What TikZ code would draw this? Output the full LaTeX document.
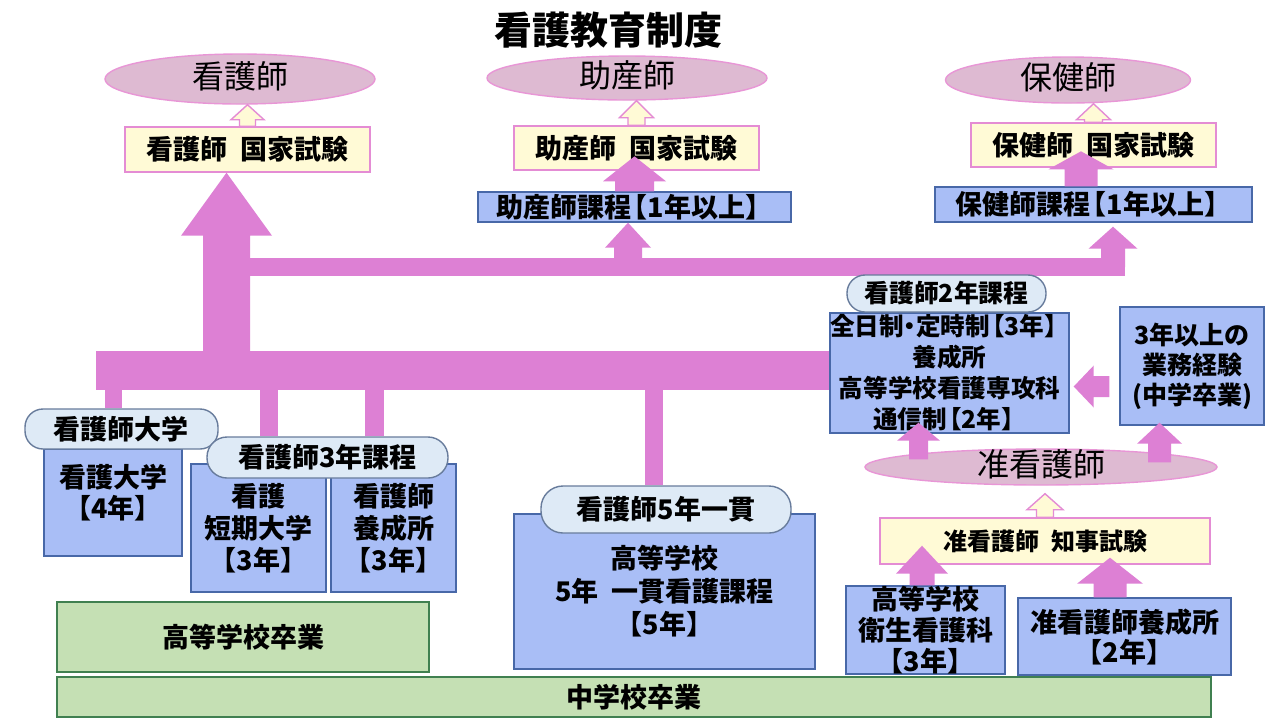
\documentclass[tikz,border=0pt]{standalone}
\usepackage{fontspec}
\setmainfont{Noto Sans CJK JP}
\usetikzlibrary{shapes.geometric,calc}

\definecolor{arrowpink}{RGB}{221,128,212}
\definecolor{ellfill}{RGB}{222,186,210}
\definecolor{ellline}{RGB}{232,150,214}
\definecolor{examfill}{RGB}{255,250,214}
\definecolor{examline}{RGB}{228,140,212}
\definecolor{boxfill}{RGB}{169,190,246}
\definecolor{boxline}{RGB}{72,104,168}
\definecolor{tagfill}{RGB}{222,234,246}
\definecolor{tagline}{RGB}{104,124,156}
\definecolor{greenfill}{RGB}{197,224,180}
\definecolor{greenline}{RGB}{64,128,80}

\pgfdeclarelayer{bars}
\pgfsetlayers{bars,main}

% tighter full-width brackets and dot inside a line
\newcommand{\openbr}{\kern-0.4em【}
\newcommand{\middot}{\kern-0.25em・\kern-0.25em}

% block arrow pointing up: style, tail, tip, shaft half width, head half width, head length
\newcommand{\blockup}[6]{%
  \path[#1] ($(#2 -| #3)+(-#4,0)$) -- ($(#3)+(-#4,#6)$) -- ($(#3)+(-#5,#6)$) -- (#3)
    -- ($(#3)+(#5,#6)$) -- ($(#3)+(#4,#6)$) -- ($(#2 -| #3)+(#4,0)$) -- cycle;}
% block arrow pointing left
\newcommand{\blockleft}[6]{%
  \path[#1] ($(#2 |- #3)+(0,-#4)$) -- ($(#3)+(#6,-#4)$) -- ($(#3)+(#6,-#5)$) -- (#3)
    -- ($(#3)+(#6,#5)$) -- ($(#3)+(#6,#4)$) -- ($(#2 |- #3)+(0,#4)$) -- cycle;}

\tikzset{
  headline/.style={font=\fontsize{19}{22}\selectfont\bfseries},
  pinkell/.style={ellipse, draw=ellline, fill=ellfill, line width=0.7pt, inner sep=0pt,
    text height=11pt, text depth=1.5pt, font=\fontsize{16}{18}\selectfont},
  exambox/.style={draw=examline, fill=examfill, line width=0.7pt, inner sep=0pt,
    font=\fontsize{13.5}{16}\selectfont\bfseries},
  bluebox/.style={draw=boxline, fill=boxfill, line width=0.7pt, inner sep=0pt, align=center,
    font=\fontsize{13.5}{16}\selectfont\bfseries},
  bluetext/.style={inner sep=0pt, align=center, font=\fontsize{13.5}{15.5}\selectfont\bfseries},
  tagbox/.style={draw=tagline, fill=tagfill, line width=0.7pt, rounded corners=9pt, inner sep=0pt,
    font=\fontsize{13.5}{16}\selectfont\bfseries},
  greenbox/.style={draw=greenline, fill=greenfill, line width=0.7pt, inner sep=0pt,
    font=\fontsize{13.5}{16}\selectfont\bfseries},
  bar/.style={draw=arrowpink, line cap=butt},
  blockarrow/.style={fill=arrowpink},
  hollowarrow/.style={draw=examline, fill=examfill, line width=0.7pt},
}

\begin{document}
\begin{tikzpicture}[x=0.5pt,y=-0.5pt]
  \useasboundingbox (0,0) rectangle (1280,720);

  \node[headline] (head) at (608,30) {看護教育制度};

  % qualifications
  \node[pinkell, minimum width=135pt, minimum height=25pt] (kango) at (240,79) {看護師};
  \node[pinkell, minimum width=140pt, minimum height=22pt] (josan) at (627,78) {助産師};
  \node[pinkell, minimum width=122.5pt, minimum height=23pt] (hoken) at (1068,80) {保健師};
  \node[pinkell, minimum width=176pt, minimum height=18pt] (jun) at (1041,467) {准看護師};

  % exams and courses
  \node[exambox, minimum width=122.5pt, minimum height=22.5pt] (kexam) at (247.5,149.5) {看護師\enspace 国家試験};
  \node[exambox, minimum width=122.5pt, minimum height=22pt] (jexam) at (636.5,148) {助産師\enspace 国家試験};
  \node[exambox, minimum width=122.5pt, minimum height=22pt] (hexam) at (1093.5,145) {保健師\enspace 国家試験};
  \node[exambox, minimum width=165pt, minimum height=23pt, font=\fontsize{12}{14}\selectfont\bfseries] (chiji) at (1045,541) {准看護師\enspace 知事試験};
  \node[bluebox, minimum width=156.5pt, minimum height=15pt] (jcourse) at (634.5,207) {助産師課程\openbr 1年以上】};
  \node[bluebox, minimum width=158.5pt, minimum height=17.5pt] (hcourse) at (1093.5,204.5) {保健師課程\openbr 1年以上】};

  % schools
  \node[bluebox, minimum width=69pt, minimum height=53.5pt] (udai) at (113,502.5) {};
  \node[bluetext] (udaitext) at ($(udai.center)+(0,-10)$) {看護大学\\【4年】};
  \node[bluebox, minimum width=67.5pt, minimum height=64pt] (tanki) at (258.5,528) {看護\\短期大学\\【3年】};
  \node[bluebox, minimum width=62.5pt, minimum height=64pt] (yosei) at (393.5,528) {看護師\\養成所\\【3年】};
  \node[bluebox, minimum width=150.5pt, minimum height=77.5pt, font=\fontsize{13.5}{16.5}\selectfont\bfseries] (five) at (664.5,591.5) {高等学校\\5年\enspace 一貫看護課程\\【5年】};
  \node[bluebox, minimum width=119.5pt, minimum height=60pt, font=\fontsize{12.3}{15.5}\selectfont\bfseries] (ntwobox) at (949.5,373)
    {全日制\middot 定時制\openbr 3年】\\養成所\\高等学校看護専攻科\\通信制\openbr 2年】};
  \node[bluebox, minimum width=72pt, minimum height=59pt, font=\fontsize{12.5}{15}\selectfont\bfseries] (expbox) at (1192,366) {3年以上の\\業務経験\\(中学卒業)};
  \node[bluebox, minimum width=79.5pt, minimum height=44pt, font=\fontsize{13.5}{15.5}\selectfont\bfseries] (eisei) at (925.5,630) {高等学校\\衛生看護科\\【3年】};
  \node[bluebox, minimum width=106.5pt, minimum height=38.5pt, font=\fontsize{13.5}{15}\selectfont\bfseries] (junyosei) at (1124.5,636.5) {准看護師養成所\\【2年】};

  % course tags
  \node[tagbox, minimum width=96.5pt, minimum height=20pt] (nutag) at (121.5,429) {看護師大学};
  \node[tagbox, minimum width=120.5pt, minimum height=20.5pt, rounded corners=10pt] (threetag) at (327.5,457.5) {看護師3年課程};
  \node[tagbox, minimum width=125pt, minimum height=23.5pt, rounded corners=11pt] (fivetag) at (666,509.5) {看護師5年一貫};
  \node[tagbox, minimum width=99.5pt, minimum height=18.5pt, font=\fontsize{12.4}{15}\selectfont\bfseries] (twotag) at (946.5,293.5) {看護師2年課程};

  % graduation
  \node[greenbox, minimum width=186pt, minimum height=35pt] (koukou) at (243,637) {高等学校卒業};
  \node[greenbox, minimum width=577pt, minimum height=20pt] (chugaku) at (634,697) {中学校卒業};

  % bars
  \begin{pgfonlayer}{bars}
    \fill[white] (0,0) rectangle (1280,720);
    \coordinate (lowL) at (96,370.5);
    \coordinate (lowR) at (lowL -| ntwobox.west);
    \draw[bar, line width=19.5pt] (lowL) -- (lowR);
    \coordinate (upL) at (226.5,267);
    \coordinate (upR) at (1125,267);
    \draw[bar, line width=9pt] (upL) -- (upR);
    \foreach \sx/\sw/\tg in {113.5/8.5/nutag, 269/9/threetag, 374.5/9.5/threetag, 654/9/fivetag} {
      \coordinate (stub) at (\sx,370.5);
      \draw[bar, line width=\sw pt] (stub) -- (stub |- \tg.north);
    }
  \end{pgfonlayer}

  % arrows
  \coordinate (stemK) at (226.5,370.5);
  \coordinate (ktip) at (kexam.south -| stemK);
  \blockup{blockarrow}{stemK}{ktip}{23.5}{45.5}{63}

  \coordinate (jstem) at (628,267);
  \coordinate (jtip) at (jcourse.south -| jstem);
  \blockup{blockarrow}{jstem}{jtip}{14}{23}{25}
  \coordinate (hstem) at (1113,267);
  \coordinate (htip) at ($(hcourse.south -| hstem)+(0,4)$);
  \blockup{blockarrow}{hstem}{htip}{12}{24.5}{22}

  \coordinate (jctip) at ($(jcourse.north)+(0,-35)$);
  \blockup{blockarrow}{jcourse.north}{jctip}{19.5}{31.5}{25}
  \coordinate (hctip) at ($(hcourse.north)+(-12.5,-35)$);
  \blockup{blockarrow}{hcourse.north}{hctip}{16.5}{32.5}{18}

  \coordinate (ttail) at ($(jun.north)+(0,11)$);
  \coordinate (ttip) at ($(ntwobox.south)+(-31,-11)$);
  \blockup{blockarrow}{ttail}{ttip}{9.5}{21.5}{18}
  \coordinate (xtail) at ($(jun.north)+(0,14)$);
  \coordinate (xtip) at ($(expbox.south)+(-32.5,-3)$);
  \blockup{blockarrow}{xtail}{xtip}{11.5}{22.5}{21}

  \coordinate (ltail) at ($(expbox.west)+(-10,0)$);
  \coordinate (ltip) at ($(ntwobox.east)+(4,13.5)$);
  \blockleft{blockarrow}{ltail}{ltip}{10.5}{21}{20}

  \coordinate (etip) at ($(chiji.south)+(-123,-19)$);
  \blockup{blockarrow}{eisei.north}{etip}{12.5}{26}{28}
  \coordinate (ytip) at ($(chiji.south)+(65,-7)$);
  \blockup{blockarrow}{junyosei.north}{ytip}{16.5}{33}{26}

  % exam -> qualification
  \coordinate (kup) at (kango.south -| kexam.north);
  \blockup{hollowarrow}{kexam.north}{kup}{8}{16.5}{15}
  \coordinate (jup) at (josan.south -| jexam.north);
  \blockup{hollowarrow}{jexam.north}{jup}{8.5}{17}{17}
  \coordinate (hup) at (hoken.south -| hexam.north);
  \blockup{hollowarrow}{hexam.north}{hup}{9}{17}{16}
  \coordinate (cup) at ($(jun.south -| chiji.north)+(0,8)$);
  \blockup{hollowarrow}{chiji.north}{cup}{8.5}{18}{16}
\end{tikzpicture}
\end{document}
